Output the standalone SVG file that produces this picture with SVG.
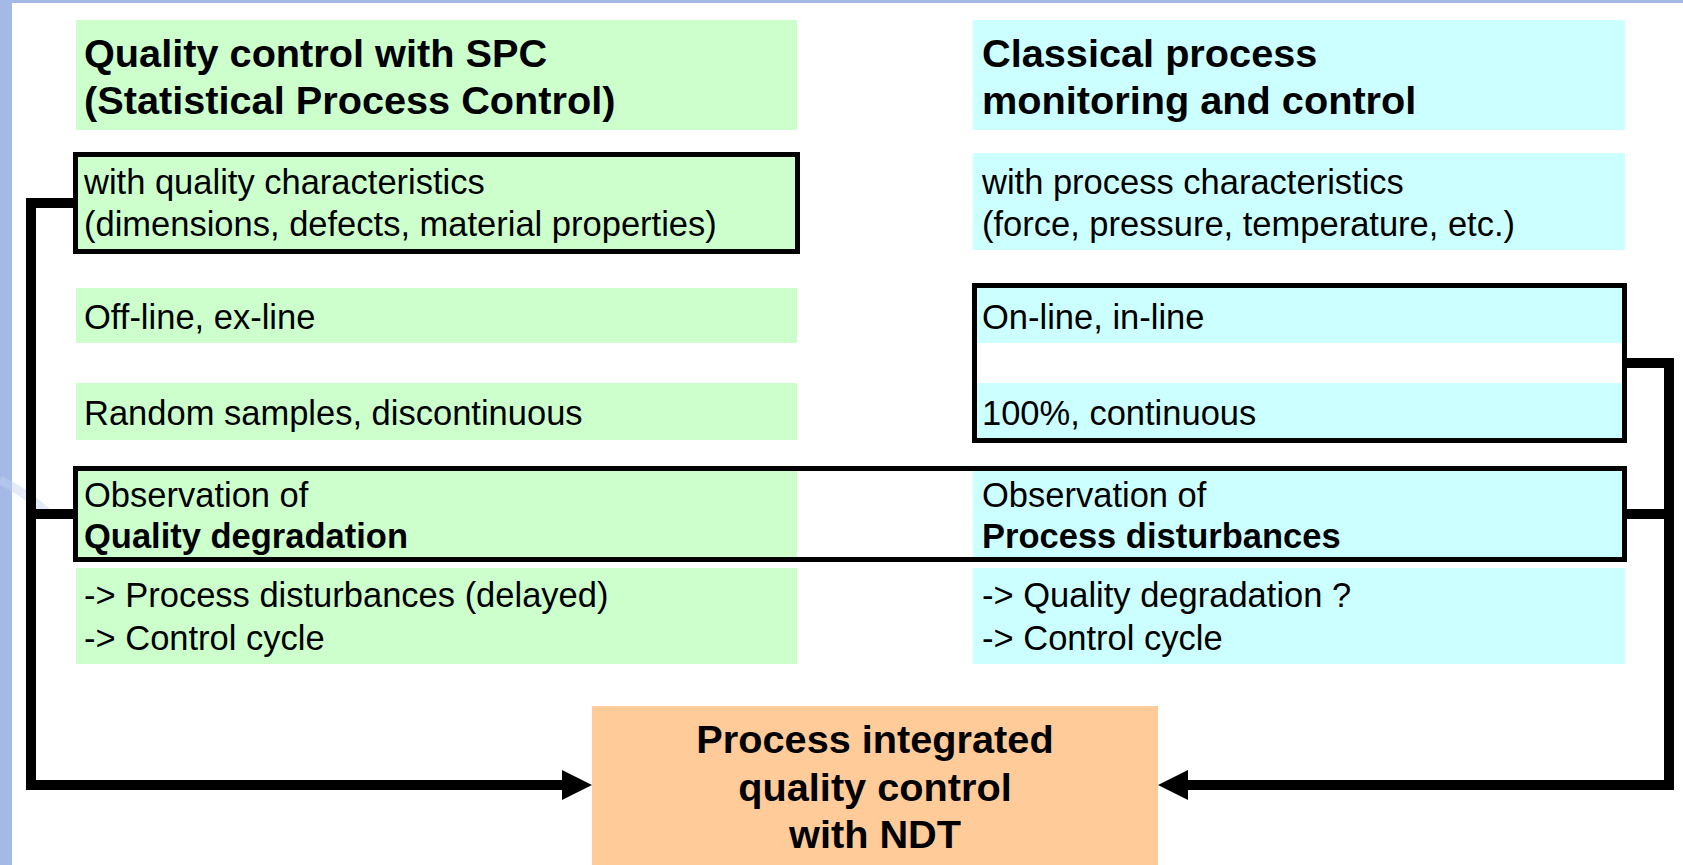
<svg xmlns="http://www.w3.org/2000/svg" width="1683" height="865" viewBox="0 0 1683 865">
<defs>
<style>
.g{fill:#CCFFCC}
.c{fill:#CCFFFF}
.o{fill:#FFCC99}
.bd{fill:none;stroke:#000;stroke-width:5}
.t{font-family:"Liberation Sans",Arial,sans-serif;font-size:34.5px;fill:#000}
.b{font-weight:bold}
.h{font-family:"Liberation Sans",Arial,sans-serif;font-size:39.7px;font-weight:bold;fill:#000}
.ln{fill:none;stroke:#000;stroke-width:10;stroke-linejoin:miter}
</style>
<marker id="arr" viewBox="0 0 3 3" refX="0" refY="1.5" markerWidth="3" markerHeight="3" orient="auto" markerUnits="strokeWidth">
<path d="M0,0 L3,1.5 L0,3 Z" fill="#000"/>
</marker>
</defs>
<rect x="0" y="0" width="1683" height="865" fill="#fff"/>
<rect x="0" y="0" width="1683" height="3" fill="#A3B9E6"/>
<rect x="0" y="0" width="12" height="865" fill="#A3B9E6"/>
<path d="M0,480 Q25,492 50,515" fill="none" stroke="#C3D2EE" stroke-width="9" opacity="0.45"/>

<g id="spc-title">
<rect class="g" x="76" y="20" width="721" height="110"/>
<text class="h" x="84" y="67">Quality control with SPC</text>
<text class="h" x="84" y="114">(Statistical Process Control)</text>
</g>
<g id="classic-title">
<rect class="c" x="973" y="20" width="652" height="110"/>
<text class="h" x="982" y="67">Classical process</text>
<text class="h" x="982" y="114">monitoring and control</text>
</g>
<g id="quality-char">
<rect class="g" x="75.5" y="154.5" width="722" height="97"/>
<rect class="bd" x="75.5" y="154.5" width="722" height="97"/>
<text class="t" x="84" y="194">with quality characteristics</text>
<text class="t" x="84" y="236">(dimensions, defects, material properties)</text>
</g>
<g id="process-char">
<rect class="c" x="973" y="153" width="652" height="97"/>
<text class="t" x="982" y="194">with process characteristics</text>
<text class="t" x="982" y="236">(force, pressure, temperature, etc.)</text>
</g>
<g id="offline">
<rect class="g" x="76" y="288" width="721" height="55"/>
<text class="t" x="84" y="329">Off-line, ex-line</text>
</g>
<g id="random">
<rect class="g" x="76" y="383" width="721" height="57"/>
<text class="t" x="84" y="425">Random samples, discontinuous</text>
</g>
<g id="online">
<rect class="c" x="975" y="286" width="648" height="57"/>
<rect class="c" x="975" y="383" width="648" height="57"/>
<rect class="bd" x="974.5" y="285.5" width="650" height="155"/>
<text class="t" x="982" y="329">On-line, in-line</text>
<text class="t" x="982" y="425">100%, continuous</text>
</g>
<g id="observation">
<rect class="g" x="76" y="468" width="721" height="92"/>
<rect class="c" x="973" y="468" width="650" height="92"/>
<rect class="bd" x="75.5" y="468.5" width="1549" height="91"/>
<text class="t" x="84" y="507">Observation of</text>
<text class="t b" x="84" y="548">Quality degradation</text>
<text class="t" x="982" y="507">Observation of</text>
<text class="t b" x="982" y="548">Process disturbances</text>
</g>
<g id="consequence-left">
<rect class="g" x="76" y="568" width="721" height="96"/>
<text class="t" x="84" y="607">-&gt; Process disturbances (delayed)</text>
<text class="t" x="84" y="650">-&gt; Control cycle</text>
</g>
<g id="consequence-right">
<rect class="c" x="973" y="568" width="652" height="96"/>
<text class="t" x="982" y="607">-&gt; Quality degradation ?</text>
<text class="t" x="982" y="650">-&gt; Control cycle</text>
</g>
<g id="integrated">
<rect class="o" x="592" y="706" width="566" height="159"/>
<text class="h" x="875" y="753" text-anchor="middle">Process integrated</text>
<text class="h" x="875" y="801" text-anchor="middle">quality control</text>
<text class="h" x="875" y="848" text-anchor="middle">with NDT</text>
</g>
<g id="connectors">
<path class="ln" d="M73,203 H31 V785 H562" marker-end="url(#arr)"/>
<path class="ln" d="M73,514 H31"/>
<path class="ln" d="M1627,363 H1669 V785 H1188" marker-end="url(#arr)"/>
<path class="ln" d="M1627,514 H1669"/>
</g>
</svg>
